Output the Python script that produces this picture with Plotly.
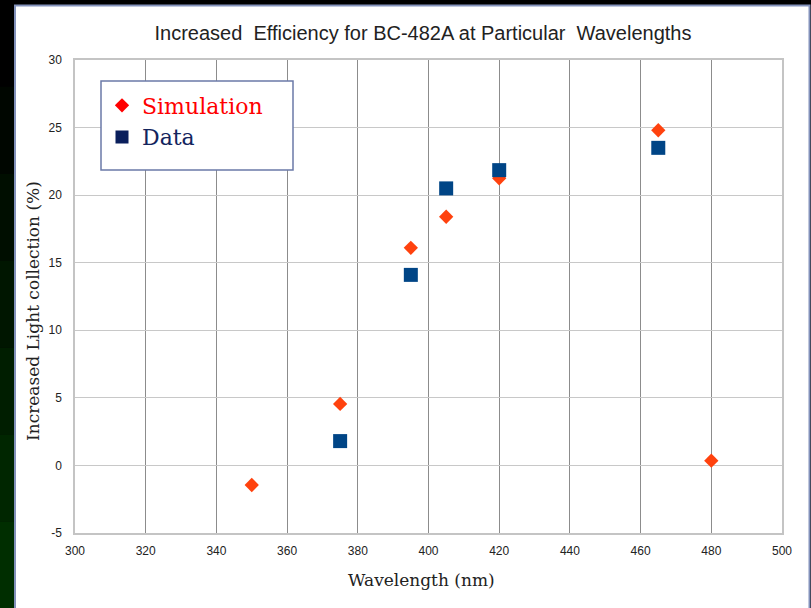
import plotly.graph_objects as go

# ---- data ----
sim_wavelength = [350, 375, 395, 405, 420, 465, 480]
sim_increase = [-1.45, 4.55, 16.1, 18.4, 21.25, 24.8, 0.35]
data_wavelength = [375, 395, 405, 420, 465]
data_increase = [1.8, 14.1, 20.5, 21.85, 23.5]
x_ticks = [300, 320, 340, 360, 380, 400, 420, 440, 460, 480, 500]
y_ticks = [-5, 0, 5, 10, 15, 20, 25, 30]
y_tick_labels = ["-5", "0", "5", "10", "15", "20", "25", "30"]

W, H = 811, 608
L, R, T, B = 75, 782, 60, 533  # plot area in pixels
pw, ph = R - L, B - T


def px(x):
    return (x - L) / pw


def py(y):
    return (B - y) / ph


fig = go.Figure()

fig.add_trace(go.Scatter(
    x=sim_wavelength, y=sim_increase, mode="markers", showlegend=False,
    marker=dict(symbol="diamond", size=11, color="#ff420e", line=dict(width=0)),
))
fig.add_trace(go.Scatter(
    x=data_wavelength, y=data_increase, mode="markers", showlegend=False,
    marker=dict(symbol="square", size=14, color="#004586", line=dict(width=0)),
))
# legend entries
fig.add_trace(go.Scatter(
    x=[None], y=[None], mode="markers",
    name="<span style='color:#ff0000'>Simulation</span>",
    marker=dict(symbol="diamond", size=11, color="#ff0000", line=dict(width=0)),
))
fig.add_trace(go.Scatter(
    x=[None], y=[None], mode="markers",
    name="<span style='color:#14255e'>Data</span>",
    marker=dict(symbol="square", size=13, color="#0a1f5c", line=dict(width=0)),
))

shapes = []
# left dark-green gradient strip
greens = ["#000000", "#000600", "#000e00", "#001600", "#001e00", "#002600", "#002e00"]
n = len(greens)
for i, c in enumerate(greens):
    y0 = H * i / n
    y1 = H * (i + 1) / n
    shapes.append(dict(type="rect", xref="paper", yref="paper",
                       x0=px(0), x1=px(14), y0=py(y1), y1=py(y0),
                       fillcolor=c, line=dict(width=0), layer="below"))
# white panel
shapes.append(dict(type="rect", xref="paper", yref="paper",
                   x0=px(15), x1=px(809.5), y0=py(612), y1=py(5.5),
                   fillcolor="white", line=dict(color="#8392bb", width=2), layer="below"))
# legend box
shapes.append(dict(type="rect", xref="paper", yref="paper",
                   x0=px(101), x1=px(293), y0=py(170), y1=py(81),
                   fillcolor="white", line=dict(color="#6b7aa8", width=1.5), layer="above"))

annotations = [
    dict(text="Wavelength (nm)", xref="paper", yref="paper",
         x=px(421), y=py(580), xanchor="center", yanchor="middle", showarrow=False,
         font=dict(family="DejaVu Serif", size=17, color="#222222")),
    dict(text="Increased Light collection (%)", xref="paper", yref="paper",
         x=px(33), y=py(311), xanchor="center", yanchor="middle", showarrow=False,
         textangle=-90,
         font=dict(family="DejaVu Serif", size=17, color="#222222")),
]

fig.update_layout(
    width=W, height=H,
    margin=dict(l=L, r=W - R, t=T, b=H - B, pad=0),
    paper_bgcolor="#000000",
    plot_bgcolor="white",
    title=dict(text="Increased  Efficiency for BC-482A at Particular  Wavelengths",
               xref="container", yref="container",
               x=423 / W, xanchor="center", y=1 - 33 / H, yanchor="middle",
               font=dict(family="Liberation Sans", size=20, color="#222222")),
    shapes=shapes,
    annotations=annotations,
    legend=dict(x=px(102), y=py(84.5), xanchor="left", yanchor="top",
                bgcolor="rgba(0,0,0,0)", borderwidth=0,
                font=dict(family="DejaVu Serif", size=22, color="#14255e")),
    xaxis=dict(range=[300, 500], tickvals=x_ticks, ticks="",
               showgrid=True, gridcolor="#8c8c8c", gridwidth=1.3,
               showline=True, mirror=True, linecolor="#c4c4c4", linewidth=1.5,
               zeroline=False, ticklabelstandoff=6,
               tickfont=dict(family="Liberation Sans", size=12, color="#222222")),
    yaxis=dict(range=[-5, 30], tickvals=y_ticks, ticktext=y_tick_labels, ticks="",
               showgrid=True, gridcolor="#c8c8c8", gridwidth=1.3,
               showline=True, mirror=True, linecolor="#c4c4c4", linewidth=1.5,
               zeroline=False, ticklabelstandoff=9,
               tickfont=dict(family="Liberation Sans", size=12, color="#222222")),
)

fig.write_html("out.html")
